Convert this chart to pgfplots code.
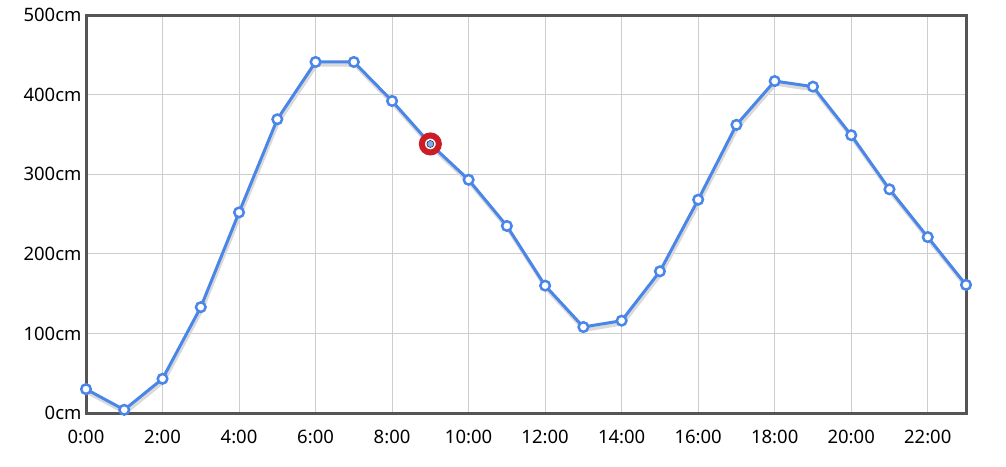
\documentclass[border=0pt]{standalone}
\usepackage{fontspec}
\setmainfont{Noto Sans}
\usepackage{pgfplots}
\pgfplotsset{compat=1.18}
\definecolor{lineblue}{RGB}{74,134,232}
\definecolor{framegray}{RGB}{85,85,85}
\definecolor{gridgray}{RGB}{205,205,205}
\definecolor{hired}{RGB}{204,28,38}
\begin{document}
\begin{tikzpicture}
\useasboundingbox (0pt,0pt) rectangle (1006pt,466pt);
\begin{axis}[at={(86pt,53pt)}, anchor=south west,
  scale only axis, width=880pt, height=398pt,
  xmin=0, xmax=23, ymin=0, ymax=500,
  xtick={0,2,...,22},
  xticklabels={0:00,2:00,4:00,6:00,8:00,10:00,12:00,14:00,16:00,18:00,20:00,22:00},
  ytick={0,100,...,500},
  yticklabels={0cm,100cm,200cm,300cm,400cm,500cm},
  tick style={draw=none},
  grid=major,
  grid style={gridgray, line width=1pt},
  axis line style={draw=none},
  ticklabel style={font=\fontsize{18.5}{20}\selectfont},
  xticklabel style={yshift=-14pt},
  yticklabel style={xshift=-1pt},
  /pgf/number format/assume math mode=true,
  clip=false]
% frame, below the series
\draw[framegray, line width=3pt] (rel axis cs:0,0) rectangle (rel axis cs:1,1);
% shadow
\addplot[black!15, line width=3.5pt, yshift=-3pt, xshift=1pt, forget plot] coordinates {
(0,30) (1,4) (2,43) (3,133) (4,252) (5,369) (6,441) (7,441) (8,392) (9,338)
(10,293) (11,235) (12,160) (13,108) (14,116) (15,178) (16,268) (17,362)
(18,417) (19,410) (20,349) (21,281) (22,221) (23,161)};
% series
\addplot[lineblue, line width=3pt, mark=*, mark size=4.8pt,
  mark options={fill=white, draw=lineblue, line width=2.5pt}] coordinates {
(0,30) (1,4) (2,43) (3,133) (4,252) (5,369) (6,441) (7,441) (8,392) (9,338)
(10,293) (11,235) (12,160) (13,108) (14,116) (15,178) (16,268) (17,362)
(18,417) (19,410) (20,349) (21,281) (22,221) (23,161)};
% highlighted point
\addplot[only marks, mark=*, mark size=8.5pt,
  mark options={fill=white, draw=hired, line width=6pt}] coordinates {(9,338)};
\addplot[only marks, mark=*, mark size=3.5pt,
  mark options={fill=lineblue!70, draw=none}] coordinates {(9,338)};
\end{axis}
\end{tikzpicture}
\end{document}
